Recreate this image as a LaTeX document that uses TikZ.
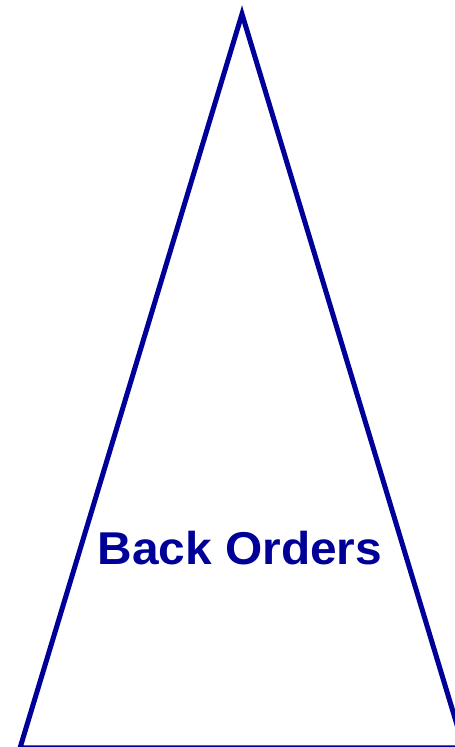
\documentclass[tikz,border=0pt]{standalone}
\usepackage{fontspec}
\setmainfont{Liberation Sans}
\usepackage{xcolor}
\usepackage{tikz}
\usetikzlibrary{calc}
\definecolor{ordblue}{RGB}{0,0,153}

\begin{document}
\begin{tikzpicture}[x=1pt, y=1pt]
    % Khung hình
    \useasboundingbox (0,0) rectangle (455,747);
    \clip (0,0) rectangle (455,747);
    % Vẽ tam giác
    \coordinate (apex) at (242,733);
    \coordinate (left) at (20,-1);
    \coordinate (right) at (464,-1);
    \draw[ordblue, line width=5pt, line join=miter] (apex) -- (left) -- (right) -- cycle;
    % Nhãn
    \node[anchor=base, inner sep=0pt, text=ordblue] (label) at (240,182)
        {\scalebox{1.04}[1]{\fontsize{46}{50}\selectfont\bfseries Back Orders}};
\end{tikzpicture}
\end{document}
